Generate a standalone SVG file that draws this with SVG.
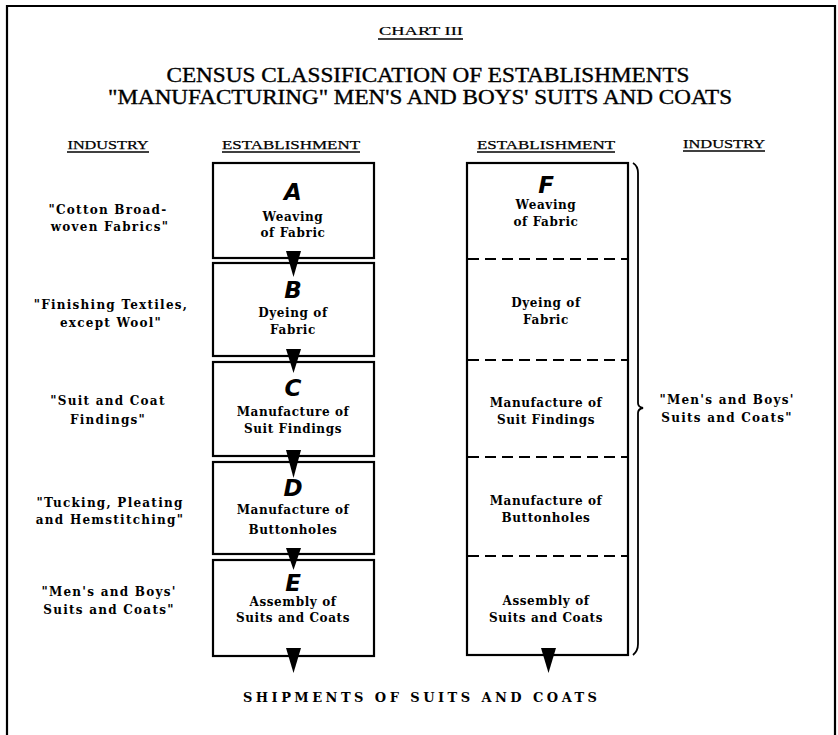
<svg xmlns="http://www.w3.org/2000/svg" width="838" height="735" viewBox="0 0 838 735">
<style>
.frame{fill:none;stroke:#000;stroke-width:2.2}
.box{fill:#fff;stroke:#000;stroke-width:2.2}
.dash{fill:none;stroke:#000;stroke-width:2;stroke-dasharray:11 6}
.brace{fill:none;stroke:#000;stroke-width:1.8}
.arrow{fill:#000;stroke:none}
.uline{stroke:#000;stroke-width:1.6}
.title{font-family:"Liberation Serif","Times New Roman",serif;font-size:20px;fill:#000;stroke:#000;stroke-width:0.35;text-anchor:middle}
.chart{font-family:"Liberation Serif","Times New Roman",serif;font-size:13px;fill:#000;stroke:#000;stroke-width:0.2;text-anchor:middle}
.hdr{font-family:"Liberation Serif","Times New Roman",serif;font-size:13px;fill:#000;stroke:#000;stroke-width:0.25;text-anchor:middle}
.body{font-family:"DejaVu Serif","Liberation Serif",serif;font-size:12px;font-weight:bold;fill:#000;text-anchor:middle;letter-spacing:0.6px}
.lbl{letter-spacing:1.25px}
.letter{font-family:"DejaVu Sans","Liberation Sans",sans-serif;font-size:23px;font-weight:bold;font-style:italic;fill:#000;text-anchor:middle}
.ship{font-family:"DejaVu Serif","Liberation Serif",serif;font-size:13px;font-weight:bold;fill:#000;text-anchor:middle}
</style>
<rect width="838" height="735" fill="#fff"/>
<path class="frame" d="M7,736 V6 H835 V736"/>

<g id="heading">
<text class="chart" x="421" y="35" textLength="84" lengthAdjust="spacingAndGlyphs">CHART III</text>
<line class="uline" x1="378" y1="39" x2="463" y2="39"/>
<text class="title" x="428" y="82" textLength="523" lengthAdjust="spacingAndGlyphs">CENSUS CLASSIFICATION OF ESTABLISHMENTS</text>
<text class="title" x="420" y="104" textLength="624" lengthAdjust="spacingAndGlyphs">"MANUFACTURING" MEN'S AND BOYS' SUITS AND COATS</text>
</g>

<g id="headers">
<text class="hdr" x="108" y="149" textLength="81" lengthAdjust="spacingAndGlyphs">INDUSTRY</text>
<line class="uline" x1="67" y1="152" x2="149" y2="152"/>
<text class="hdr" x="291" y="149" textLength="138" lengthAdjust="spacingAndGlyphs">ESTABLISHMENT</text>
<line class="uline" x1="222" y1="152" x2="360" y2="152"/>
<text class="hdr" x="546" y="149" textLength="138" lengthAdjust="spacingAndGlyphs">ESTABLISHMENT</text>
<line class="uline" x1="477" y1="152" x2="615" y2="152"/>
<text class="hdr" x="724" y="148" textLength="82" lengthAdjust="spacingAndGlyphs">INDUSTRY</text>
<line class="uline" x1="683" y1="151" x2="765" y2="151"/>
</g>

<g id="industry-left">
<text class="body lbl" x="108" y="214">"Cotton Broad-</text>
<text class="body lbl" x="110" y="231">woven Fabrics"</text>
<text class="body lbl" x="111" y="309">"Finishing Textiles,</text>
<text class="body lbl" x="111" y="327">except Wool"</text>
<text class="body lbl" x="108" y="405">"Suit and Coat</text>
<text class="body lbl" x="108" y="424">Findings"</text>
<text class="body lbl" x="110" y="507">"Tucking, Pleating</text>
<text class="body lbl" x="110" y="524">and Hemstitching"</text>
<text class="body lbl" x="109" y="596">"Men's and Boys'</text>
<text class="body lbl" x="109" y="614">Suits and Coats"</text>
</g>

<g id="node-A">
<rect class="box" x="213" y="163" width="161" height="95"/>
<text class="letter" x="293" y="200">A</text>
<text class="body" x="293" y="221">Weaving</text>
<text class="body" x="293" y="237">of Fabric</text>
</g>
<g id="node-B">
<rect class="box" x="213" y="263" width="161" height="93"/>
<text class="letter" x="293" y="298">B</text>
<text class="body" x="293" y="317">Dyeing of</text>
<text class="body" x="293" y="334">Fabric</text>
</g>
<g id="node-C">
<rect class="box" x="213" y="362" width="161" height="94"/>
<text class="letter" x="293" y="396">C</text>
<text class="body" x="293" y="416">Manufacture of</text>
<text class="body" x="293" y="433">Suit Findings</text>
</g>
<g id="node-D">
<rect class="box" x="213" y="462" width="161" height="92"/>
<text class="letter" x="293" y="496">D</text>
<text class="body" x="293" y="514">Manufacture of</text>
<text class="body" x="293" y="534">Buttonholes</text>
</g>
<g id="node-E">
<rect class="box" x="213" y="560" width="161" height="96"/>
<text class="letter" x="293" y="591">E</text>
<text class="body" x="293" y="606">Assembly of</text>
<text class="body" x="293" y="622">Suits and Coats</text>
</g>

<g id="node-F">
<rect class="box" x="467" y="163" width="161" height="492"/>
<line class="dash" x1="468" y1="259" x2="627" y2="259"/>
<line class="dash" x1="468" y1="360" x2="627" y2="360"/>
<line class="dash" x1="468" y1="457" x2="627" y2="457"/>
<line class="dash" x1="468" y1="556" x2="627" y2="556"/>
<text class="letter" x="546" y="193">F</text>
<text class="body" x="546" y="209">Weaving</text>
<text class="body" x="546" y="226">of Fabric</text>
<text class="body" x="546" y="307">Dyeing of</text>
<text class="body" x="546" y="324">Fabric</text>
<text class="body" x="546" y="407">Manufacture of</text>
<text class="body" x="546" y="424">Suit Findings</text>
<text class="body" x="546" y="505">Manufacture of</text>
<text class="body" x="546" y="522">Buttonholes</text>
<text class="body" x="546" y="605">Assembly of</text>
<text class="body" x="546" y="622">Suits and Coats</text>
</g>

<g id="brace">
<path class="brace" d="M633,163 Q638,166 638,173 V403 Q638,407 643,408 Q638,409 638,413 V644 Q638,651 633,655"/>
</g>

<g id="industry-right">
<text class="body lbl" x="727" y="404">"Men's and Boys'</text>
<text class="body lbl" x="727" y="422">Suits and Coats"</text>
</g>

<g id="connectors">
<polygon class="arrow" points="286,251 301,251 293.5,277"/>
<polygon class="arrow" points="286,349 301,349 293.5,373"/>
<polygon class="arrow" points="286,450 301,450 293.5,478"/>
<polygon class="arrow" points="286,548 301,548 293.5,570"/>
<polygon class="arrow" points="286,648 301,648 293.5,673"/>
<polygon class="arrow" points="541,648 556,648 548.5,673"/>
</g>

<g id="footer">
<text class="ship" x="420" y="702" textLength="354" lengthAdjust="spacing">SHIPMENTS OF SUITS AND COATS</text>
</g>
</svg>
